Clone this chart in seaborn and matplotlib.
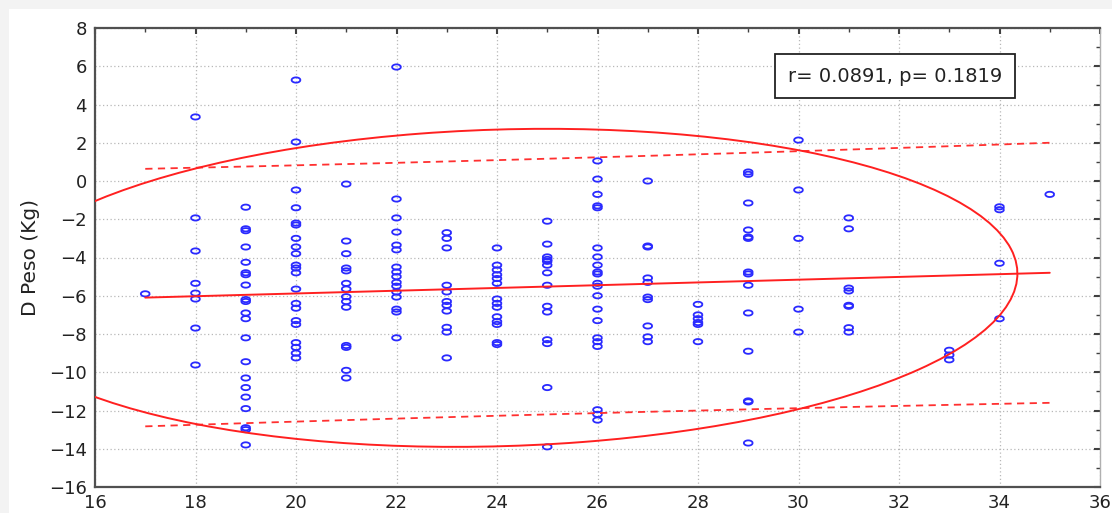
import numpy as np
import pandas as pd
import matplotlib
matplotlib.use('Agg')
import matplotlib.pyplot as plt
import seaborn as sns
from matplotlib.patches import Ellipse, Rectangle
from matplotlib.ticker import MultipleLocator

# Data (x = age, y = D Peso)

x17 = [-5.9]
x18 = [3.35, -1.93, -3.66, -5.35, -5.86, -6.17, -7.69, -9.62]
x19 = [-1.37, -2.5, -2.6, -3.45, -4.25, -4.8, -4.9, -5.44, -6.2, -6.3, -6.9, -7.2,
       -8.2, -9.45, -10.3, -10.8, -11.3, -11.9, -12.9, -13.0, -13.8]
x20 = [5.28, 2.04, -0.47, -1.4, -2.2, -2.3, -3.0, -3.45, -3.8, -4.4, -4.55, -4.8,
       -5.65, -6.4, -6.65, -7.3, -7.5, -8.45, -8.7, -9.0, -9.25]
x21 = [-0.16, -3.14, -3.8, -4.55, -4.7, -5.35, -5.65, -6.05, -6.3, -6.6, -8.6,
       -8.7, -9.9, -10.3]
x22 = [5.96, -0.94, -1.93, -2.67, -3.35, -3.6, -4.5, -4.76, -5.0, -5.3, -5.5,
       -5.8, -6.07, -6.7, -6.85, -8.2]
x23 = [-2.7, -3.0, -3.5, -5.45, -5.8, -6.3, -6.5, -6.8, -7.65, -7.9, -9.25]
x24 = [-3.5, -4.4, -4.65, -4.9, -5.1, -5.35, -6.17, -6.4, -6.6, -7.1, -7.35,
       -7.5, -8.45, -8.55]
x25 = [-2.1, -3.3, -3.97, -4.1, -4.2, -4.4, -4.8, -5.45, -6.55, -6.85, -8.3,
       -8.5, -10.8, -13.9]
x26 = [1.05, 0.1, -0.7, -1.3, -1.4, -3.5, -3.97, -4.4, -4.76, -4.86, -5.35,
       -5.5, -6.0, -6.7, -7.3, -8.2, -8.4, -8.65, -11.96, -12.2, -12.5]
x27 = [0.0, -3.4, -3.45, -5.07, -5.3, -6.07, -6.2, -7.58, -8.15, -8.4]
x28 = [-6.45, -7.0, -7.2, -7.4, -7.5, -8.4]
x29 = [0.47, 0.35, -1.15, -2.56, -2.93, -3.0, -4.76, -4.86, -5.45, -6.9, -8.9,
       -11.5, -11.55, -13.7]
x30 = [2.14, -0.47, -3.0, -6.7, -7.9]
x31 = [-1.93, -2.5, -5.6, -5.75, -6.5, -6.55, -7.67, -7.9]
x33 = [-8.85, -9.1, -9.35]
x34 = [-1.35, -1.5, -4.3, -7.2]
x35 = [-0.7]

columns = {17: x17, 18: x18, 19: x19, 20: x20, 21: x21, 22: x22, 23: x23,
           24: x24, 25: x25, 26: x26, 27: x27, 28: x28, 29: x29, 30: x30,
           31: x31, 33: x33, 34: x34, 35: x35}

df = pd.DataFrame([(k, v) for k, vals in columns.items() for v in vals],
                  columns=['x', 'D Peso (Kg)'])

r_value = 0.0891
p_value = 0.1819
r_text = f'r= {r_value}, p= {p_value}'

# Regression, 95% prediction band and 95% ellipse
# (many points overlap in the picture, so use the reported r with the visible spread)

x = df['x'].values
y = df['D Peso (Kg)'].values
n = len(x)
sx, sy = x.std(ddof=1), y.std(ddof=1)
b = r_value * sy / sx
a = y.mean() - b * x.mean()
s = sy * np.sqrt(1 - r_value ** 2)
xs = np.linspace(x.min(), x.max(), 200)
yfit = a + b * xs
sxx = np.sum((x - x.mean()) ** 2)
half = 1.97 * s * np.sqrt(1 + 1 / n + (xs - x.mean()) ** 2 / sxx)

cov = np.array([[sx ** 2, r_value * sx * sy], [r_value * sx * sy, sy ** 2]])
vals, vecs = np.linalg.eigh(cov)
order = vals.argsort()[::-1]
vals, vecs = vals[order], vecs[:, order]
angle = np.degrees(np.arctan2(vecs[1, 0], vecs[0, 0]))
k = np.sqrt(5.991)

# Plot

sns.set_style('white')
plt.rcParams['font.family'] = ['DejaVu Sans']

fig = plt.figure(figsize=(11.12, 5.13), dpi=100, facecolor='#f3f3f3')
fig.patches.append(Rectangle((9 / 1112, 0), 1, 1 - 9 / 513, transform=fig.transFigure,
                             facecolor='white', edgecolor='none', zorder=-10))
ax = fig.add_axes([95 / 1112, 26 / 513, 1005 / 1112, 459 / 513])
ax.set_facecolor('white')

marker = [(np.cos(t), 0.6 * np.sin(t)) for t in np.linspace(0, 2 * np.pi, 30)]
sns.scatterplot(data=df, x='x', y='D Peso (Kg)', ax=ax, marker=marker, s=40,
                facecolor='none', edgecolor='#2a2aff', linewidth=1.3, zorder=3)

ax.plot(xs, yfit, color='#ff2020', lw=1.4, zorder=4)
ax.plot(xs, yfit + half, color='#ff3030', lw=1.3, ls=(0, (4, 3)), zorder=4)
ax.plot(xs, yfit - half, color='#ff3030', lw=1.3, ls=(0, (4, 3)), zorder=4)
ax.add_patch(Ellipse((x.mean(), y.mean()), 2 * k * np.sqrt(vals[0]), 2 * k * np.sqrt(vals[1]),
                     angle=angle, facecolor='none', edgecolor='#ff2020', lw=1.4, zorder=4))

ax.set_xlim(16, 36)
ax.set_ylim(-16, 8)
ax.xaxis.set_major_locator(MultipleLocator(2))
ax.xaxis.set_minor_locator(MultipleLocator(1))
ax.yaxis.set_major_locator(MultipleLocator(2))
ax.yaxis.set_minor_locator(MultipleLocator(1))
ax.grid(True, which='major', color='#b8b8b8', ls=(0, (1, 2)), lw=0.9)
ax.tick_params(which='both', direction='in', top=True, right=True, color='#404040',
               labelsize=13, labelcolor='#222222')
ax.tick_params(which='major', length=4, width=1.5)
ax.tick_params(which='minor', length=3, width=1)
ax.tick_params(axis='x', pad=5)
ax.tick_params(axis='y', pad=6)
for sp in ax.spines.values():
    sp.set_color('#505050')
    sp.set_linewidth(1.6)
ax.spines['right'].set_color('#b0b0b0')
ax.spines['right'].set_linewidth(1)

ax.set_xlabel('')
ax.set_ylabel('D Peso (Kg)', fontsize=14.5, color='#222222', labelpad=6)
ax.text(31.92, 5.49, r_text, ha='center', va='center', fontsize=14, color='#222222',
        bbox=dict(boxstyle='square,pad=0.65', facecolor='white', edgecolor='#222222', lw=1.3),
        zorder=6)

fig.savefig('out.png', dpi=100, facecolor=fig.get_facecolor())
